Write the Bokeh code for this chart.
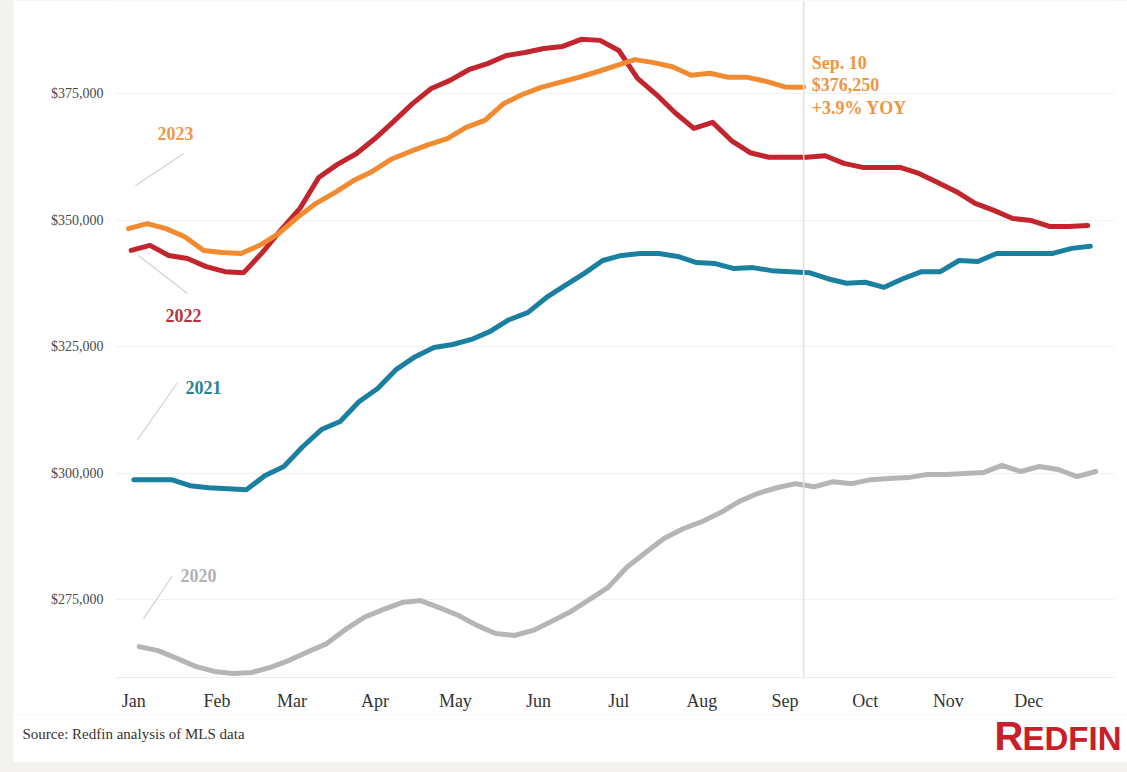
import pandas as pd
from bokeh.plotting import figure
from bokeh.models import Span, Label, FixedTicker, Range1d, ColumnDataSource
from bokeh.layouts import column
from bokeh.embed import file_html
from bokeh.resources import INLINE

# ---------------- data ----------------
months = ["Jan", "Feb", "Mar", "Apr", "May", "Jun", "Jul", "Aug", "Sep", "Oct", "Nov", "Dec"]
month_start_days = [0, 31, 59, 90, 120, 151, 181, 212, 243, 273, 304, 334]
y_ticks = [275000, 300000, 325000, 350000, 375000]
y_tick_labels = ["$275,000", "$300,000", "$325,000", "$350,000", "$375,000"]

# first week (Sunday) of each year's weekly series
start_2020 = "2020-01-05"
start_2021 = "2021-01-03"
start_2022 = "2022-01-02"
start_2023 = "2023-01-01"

price_2020 = [265700, 264900, 263400, 261800, 260800, 260400, 260600, 261600, 263000, 264700,
              266300, 269100, 271500, 273000, 274400, 274800, 273400, 271900, 269900, 268300,
              267900, 268900, 270700, 272600, 275000, 277400, 281400, 284300, 287100, 289000,
              290400, 292200, 294400, 296000, 297100, 297900, 297300, 298300, 297900, 298700,
              298900, 299100, 299700, 299700, 299900, 300100, 301500, 300300, 301300, 300700,
              299300, 300300]
price_2021 = [298700, 298700, 298700, 297500, 297100, 296900, 296700, 299500, 301300, 305200,
              308600, 310200, 314100, 316700, 320500, 323000, 324800, 325400, 326400, 328000,
              330300, 331700, 334700, 337100, 339400, 342000, 343000, 343400, 343400, 342800,
              341600, 341400, 340400, 340600, 340000, 339800, 339600, 338400, 337500, 337700,
              336700, 338400, 339800, 339800, 342000, 341800, 343400, 343400, 343400, 343400,
              344400, 344800]
price_2022 = [344000, 345000, 343000, 342400, 340800, 339800, 339600, 343600, 348100, 352300,
              358400, 361000, 363100, 366100, 369500, 373000, 376000, 377600, 379700, 380900,
              382500, 383100, 383900, 384300, 385700, 385500, 383500, 378000, 374800, 371200,
              368100, 369300, 365700, 363300, 362400, 362400, 362400, 362700, 361200, 360400,
              360400, 360400, 359200, 357400, 355600, 353300, 351900, 350300, 349900, 348700,
              348700, 348900]
price_2023 = [348300, 349300, 348300, 346700, 344000, 343600, 343400, 345000, 347300, 350500,
              353300, 355400, 357800, 359600, 362000, 363500, 364900, 366100, 368300, 369700,
              373000, 374800, 376200, 377200, 378200, 379300, 380500, 381700, 381100, 380300,
              378600, 379000, 378200, 378200, 377400, 376300, 376250]

annot_lines = ["Sep. 10", "$376,250", "+3.9% YOY"]
source_text = "Source: Redfin analysis of MLS data"


def day_of_year(start, n):
    d = pd.date_range(start, periods=n, freq="7D")
    return list(d.dayofyear - 1)


x2020 = day_of_year(start_2020, len(price_2020))
x2021 = day_of_year(start_2021, len(price_2021))
x2022 = day_of_year(start_2022, len(price_2022))
x2023 = day_of_year(start_2023, len(price_2023))

# ---------------- styles ----------------
C_ORANGE = "#f28b30"
C_RED = "#c2252d"
C_TEAL = "#1b7fa0"
C_GRAY = "#b5b5b5"
C_LEADER = "#d2d2d2"
PAGE_BG = "#f3f2ee"

p = figure(width=1114, height=714,
           x_range=Range1d(-4.85, 368.0), y_range=Range1d(259600, 393380),
           output_backend="svg", toolbar_location=None,
           min_border_left=102, min_border_right=13, min_border_top=0, min_border_bottom=37,
           background_fill_color="white", border_fill_color="white",
           outline_line_color=None)
p.margin = (0, 0, 0, 13)
p.frame_align = False

# axes
p.yaxis.ticker = FixedTicker(ticks=y_ticks)
p.yaxis.major_label_overrides = {t: l for t, l in zip(y_ticks, y_tick_labels)}
p.yaxis.axis_line_color = None
p.yaxis.major_tick_line_color = None
p.yaxis.minor_tick_line_color = None
p.yaxis.major_label_text_font = "Liberation Serif"
p.yaxis.major_label_text_font_size = "14px"
p.yaxis.major_label_text_color = "#4a4a4a"
p.yaxis.major_label_standoff = 6

x_ticks = [d + 2 for d in month_start_days]
p.xaxis.ticker = FixedTicker(ticks=x_ticks)
p.xaxis.major_label_overrides = {t: m for t, m in zip(x_ticks, months)}
p.xaxis.axis_line_color = "#ececec"
p.xaxis.major_tick_line_color = None
p.xaxis.minor_tick_line_color = None
p.xaxis.major_label_text_font = "Liberation Serif"
p.xaxis.major_label_text_font_size = "18px"
p.xaxis.major_label_text_color = "#333333"
p.xaxis.major_label_standoff = 7

p.xgrid.grid_line_color = None
p.ygrid.ticker = FixedTicker(ticks=y_ticks)
p.ygrid.grid_line_color = "#f1f1f1"
p.ygrid.grid_line_width = 1

# Sep 10 marker
p.add_layout(Span(location=x2023[-1], dimension="height", line_color="#e0e0e0", line_width=1.5))

# lines
for xs, ys, c in [(x2020, price_2020, C_GRAY), (x2021, price_2021, C_TEAL),
                  (x2022, price_2022, C_RED), (x2023, price_2023, C_ORANGE)]:
    p.line(xs, ys, line_color=c, line_width=5, line_join="round", line_cap="round")

# leader lines
lead = ColumnDataSource(dict(
    x0=[2.6, 3.7, 3.4, 5.6], y0=[356800, 343000, 306600, 271200],
    x1=[20.5, 22.0, 18.3, 16.4], y1=[363100, 335500, 317900, 279700]))
p.segment("x0", "y0", "x1", "y1", source=lead, line_color=C_LEADER, line_width=1.2)

# year labels
for txt, x, y, c in [("2023", 17.5, 367100, "#f0964a"), ("2022", 20.5, 331100, "#b8323c"),
                     ("2021", 28.0, 316900, "#2a7f9c"), ("2020", 26.1, 279700, "#b2b2b2")]:
    p.add_layout(Label(x=x, y=y, text=txt, text_font="Liberation Serif", text_font_style="bold",
                       text_font_size="18px", text_color=c, text_align="center",
                       text_baseline="middle"))

# end annotation
for txt, y in zip(annot_lines, [381100, 376600, 372200]):
    p.add_layout(Label(x=x2023[-1] + 3, y=y, text=txt, text_font="Liberation Serif",
                       text_font_style="bold", text_font_size="18px", text_color="#f0953f",
                       text_align="left", text_baseline="middle"))

# ---------------- footer strip (source + logo), pixel coordinates ----------------
foot = figure(width=1114, height=48, x_range=Range1d(0, 1114), y_range=Range1d(0, 48),
              output_backend="svg", toolbar_location=None,
              x_axis_type=None, y_axis_type=None,
              min_border_left=0, min_border_right=0, min_border_top=0, min_border_bottom=0,
              background_fill_color="white", border_fill_color="white",
              outline_line_color=None)
foot.frame_align = False
foot.xgrid.grid_line_color = None
foot.ygrid.grid_line_color = None
foot.margin = (0, 0, 10, 13)
foot.add_layout(Label(x=9, y=29, text=source_text, text_font="Liberation Serif",
                      text_font_size="15px", text_color="#333333", text_align="left",
                      text_baseline="middle"))
LOGO_FONT = "Liberation Sans"
foot.add_layout(Label(x=981, y=27, text="R", text_font=LOGO_FONT,
                      text_font_style="bold", text_font_size="40px", text_color="#c8202a",
                      text_align="left", text_baseline="middle"))
foot.add_layout(Label(x=1009, y=24, text="EDFIN", text_font=LOGO_FONT,
                      text_font_style="bold", text_font_size="33px", text_color="#c8202a",
                      text_align="left", text_baseline="middle"))

layout = column(p, foot, spacing=0, styles={"background-color": PAGE_BG})
open("out.html", "w").write(file_html(layout, INLINE))
